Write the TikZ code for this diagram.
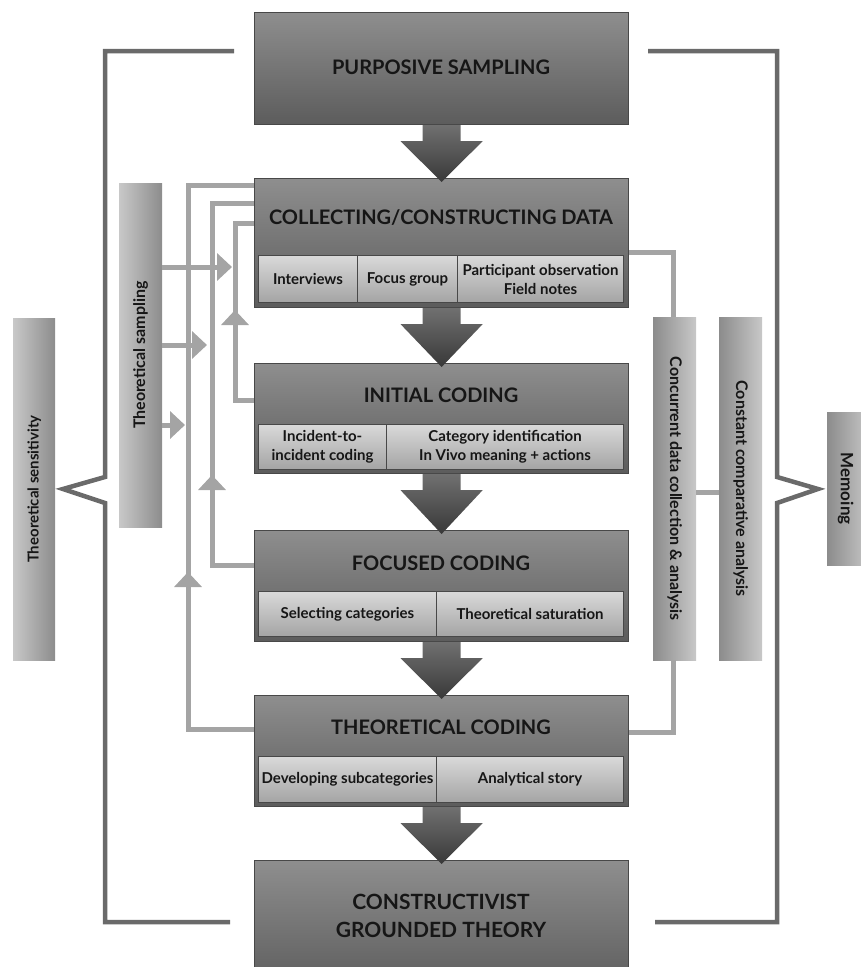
\documentclass[tikz,border=0pt]{standalone}
\usepackage{fontspec}
\setmainfont{Lato}
\usetikzlibrary{arrows.meta,calc}

\definecolor{boxtop}{HTML}{8E8E8E}
\definecolor{boxbot}{HTML}{5C5C5C}
\definecolor{boxline}{HTML}{484848}
\definecolor{subtop}{HTML}{D9D9D9}
\definecolor{subbot}{HTML}{A4A4A4}
\definecolor{sidelight}{HTML}{C8C8C8}
\definecolor{sidedark}{HTML}{8C8C8C}
\definecolor{fbline}{HTML}{A4A4A4}
\definecolor{brline}{HTML}{6A6A6A}
\definecolor{arrtop}{HTML}{707070}
\definecolor{arrbot}{HTML}{383838}
\definecolor{ink}{HTML}{161616}

\tikzset{
  mainbox/.style={draw=boxline, line width=1.2pt, top color=boxtop, bottom color=boxbot,
    minimum width=374pt, anchor=north west, inner sep=0pt},
  subbox/.style={draw=boxline, line width=1pt, top color=subtop, bottom color=subbot,
    anchor=north west, inner sep=0pt, align=center, text=ink,
    font=\bfseries\fontsize{15}{19}\selectfont},
  boxtitle/.style={text=ink, align=center, font=\bfseries\fontsize{20}{28}\selectfont},
  sidebox/.style={anchor=north west, inner sep=0pt, minimum width=43pt},
  sideL/.style={sidebox, left color=sidelight, right color=sidedark},
  sideR/.style={sidebox, left color=sidedark, right color=sidelight},
  sidetext/.style={text=ink, font=\bfseries\fontsize{16}{18}\selectfont},
  fb/.style={draw=fbline, line width=5pt},
  fbtip/.style={fb, -{Triangle[width=27pt,length=15pt]}},
  bracket/.style={draw=brline, line width=4.5pt, line join=miter},
}

% block arrow from the bottom of one box into the top of the next
\newcommand\flowarrow[2]{%
  \coordinate (fa-tip) at ($(#1.south |- #2.north)+(0,4)$);
  \shade[top color=arrtop, bottom color=arrbot]
    ($(#1.south)+(-19,0)$) -- ($(#1.south)+(-19,16)$) -- ($(#1.south)+(-41,16)$)
    -- (fa-tip) -- ($(#1.south)+(41,16)$) -- ($(#1.south)+(19,16)$)
    -- ($(#1.south)+(19,0)$) -- cycle;
}

\begin{document}
\begin{tikzpicture}[x=1pt, y=-1pt]
\useasboundingbox (0,0) rectangle (861,967);

% ---------- main column ----------
\node[mainbox, minimum height=112pt] (ps) at (254,12) {};
\node[boxtitle] (pst) at (441,67) {PURPOSIVE SAMPLING};

\node[mainbox, minimum height=129pt] (cd) at (254,178) {};
\node[boxtitle] (cdt) at (441,218) {COLLECTING/CONSTRUCTING DATA};
\node[subbox, minimum width=99pt,  minimum height=47pt] (cd1) at (258,255) {Interviews};
\node[subbox, minimum width=100pt, minimum height=47pt] (cd2) at (357,255) {Focus group};
\node[subbox, minimum width=166pt, minimum height=47pt] (cd3) at (457,255) {Participant observation\\Field notes};

\node[mainbox, minimum height=110pt] (ic) at (254,363) {};
\node[boxtitle] (ict) at (441,395) {INITIAL CODING};
\node[subbox, minimum width=128pt, minimum height=45pt] (ic1) at (258,424) {Incident-to-\\incident coding};
\node[subbox, minimum width=237pt, minimum height=45pt] (ic2) at (386,424) {Category identification\\In Vivo meaning + actions};

\node[mainbox, minimum height=111pt] (fc) at (254,530) {};
\node[boxtitle] (fct) at (441,563) {FOCUSED CODING};
\node[subbox, minimum width=178pt, minimum height=45pt] (fc1) at (258,591) {Selecting categories};
\node[subbox, minimum width=187pt, minimum height=45pt] (fc2) at (436,591) {Theoretical saturation};

\node[mainbox, minimum height=111pt] (tc) at (254,695) {};
\node[boxtitle] (tct) at (441,727) {THEORETICAL CODING};
\node[subbox, minimum width=178pt, minimum height=46pt] (tc1) at (258,756) {Developing subcategories};
\node[subbox, minimum width=187pt, minimum height=46pt] (tc2) at (436,756) {Analytical story};

\node[mainbox, minimum height=130pt] (cg) at (254,860) {};
\node[boxtitle, font=\bfseries\fontsize{21}{28}\selectfont] (cgt) at (441,916) {CONSTRUCTIVIST\\GROUNDED THEORY};

\flowarrow{ps}{cd}
\flowarrow{cd}{ic}
\flowarrow{ic}{fc}
\flowarrow{fc}{tc}
\flowarrow{tc}{cg}

% ---------- side boxes ----------
\node[sideL, minimum height=344pt] (tsamp) at (119,183) {};
\node[sidetext, rotate=90] at (tsamp.center) {Theoretical sampling};

\node[sideL, minimum height=342pt, minimum width=42pt] (tsens) at (13,318) {};
\node[sidetext, rotate=90, font=\bfseries\fontsize{15}{18}\selectfont] at (tsens.center) {Theoretical sensitivity};

\node[sideR, minimum height=343pt] (conc) at (653,317) {};
\node[sidetext, rotate=-90] at (conc.center) {Concurrent data collection \& analysis};

\node[sideR, minimum height=343pt] (const) at (719,317) {};
\node[sidetext, rotate=-90] at (const.center) {Constant comparative analysis};

\node[sideR, minimum height=153pt] (memo) at (827,412) {};
\node[sidetext, rotate=-90, font=\bfseries\fontsize{17}{20}\selectfont] at ($(memo.center)+(-3,0)$) {Memoing};

% ---------- feedback loops on the left ----------
\coordinate (a1) at (188,729); \coordinate (a2) at (188,185);
\coordinate (b1) at (212,565); \coordinate (b2) at (212,203);
\coordinate (c1) at (235,400); \coordinate (c2) at (235,223);
\draw[fb] (tc.west |- a1) -- (a1) -- (a2) -- (cd.west |- a2);
\draw[fb] (fc.west |- b1) -- (b1) -- (b2) -- (cd.west |- b2);
\draw[fb] (ic.west |- c1) -- (c1) -- (c2) -- (cd.west |- c2);
\draw[fbtip] (188,600) -- (188,572);
\draw[fbtip] (212,500) -- (212,475);
\draw[fbtip] (235,335) -- (235,310);

% theoretical sampling feeding the loops
\coordinate (h1) at (232,267);
\coordinate (h2) at (207,345);
\coordinate (h3) at (185,425);
\draw[fbtip] (tsamp.east |- h1) -- (h1);
\draw[fbtip] (tsamp.east |- h2) -- (h2);
\draw[fbtip] (tsamp.east |- h3) -- (h3);

% ---------- concurrent collection links on the right ----------
\coordinate (r1) at (673,252);
\coordinate (r2) at (673,732);
\draw[fb] (cd.east |- r1) -- (r1) -- (conc.north -| r1);
\draw[fb] (conc.south -| r2) -- (r2) -- (tc.east |- r2);
\draw[fb] (conc.east |- 0,492) -- (const.west |- 0,492);

% ---------- outer brackets ----------
\coordinate (lt) at (234,51);  \coordinate (lb) at (230,922);
\coordinate (rt) at (648,51);  \coordinate (rb) at (655,922);
\draw[bracket] (lt) -- (105,51) -- (105,477) -- (63,489) -- (105,503) -- (105,922) -- (lb);
\draw[bracket] (rt) -- (777,51) -- (777,477) -- (818,489) -- (777,503) -- (777,922) -- (rb);

\end{tikzpicture}
\end{document}
